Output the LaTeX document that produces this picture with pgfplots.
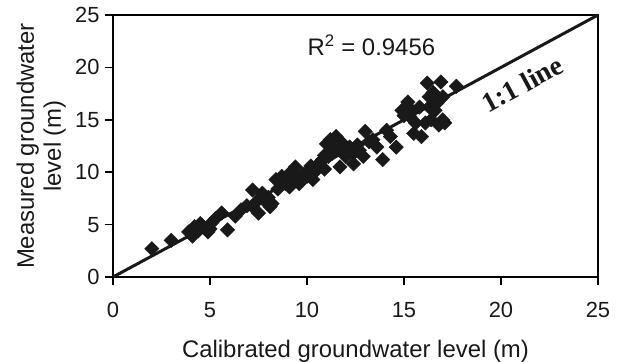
\documentclass[border=0pt]{standalone}
\usepackage{fontspec}
\setmainfont{Liberation Sans}
\newfontfamily\gothfont{Liberation Serif}
\usepackage{pgfplots}
\pgfplotsset{compat=1.18}
\pgfplotstableread{
x y
2.0 2.7
3.0 3.5
3.9 4.3
4.1 3.9
4.2 4.8
4.3 4.6
4.4 4.4
4.5 5.1
4.6 4.9
4.7 4.7
4.9 4.3
5.0 4.6
5.1 5.2
5.3 5.6
5.6 6.1
5.9 4.5
6.3 5.8
6.6 6.4
6.9 6.8
7.2 8.3
7.2 6.7
7.4 7.2
7.5 6.1
7.7 8.0
7.8 7.3
8.0 7.6
8.1 6.7
8.2 7.0
8.4 9.3
8.5 8.4
8.7 9.6
8.8 9.3
8.9 8.9
9.1 9.9
9.1 8.6
9.3 9.2
9.4 10.5
9.5 9.5
9.6 8.9
9.8 9.8
10.0 9.6
10.1 10.2
10.2 10.6
10.3 9.3
10.4 10.0
10.6 10.5
10.7 11.0
10.8 11.2
10.9 10.3
10.9 11.6
11.0 12.7
11.1 11.5
11.2 13.1
11.3 11.8
11.4 12.6
11.5 13.4
11.5 12.2
11.7 10.5
11.8 12.8
11.9 11.9
12.0 11.5
12.1 12.0
12.2 12.4
12.4 11.8
12.4 10.8
12.6 12.6
12.7 12.1
12.9 11.5
13.0 13.9
13.2 12.9
13.4 13.1
13.6 12.4
13.9 11.2
14.1 14.0
14.3 13.4
14.6 12.4
14.9 15.9
15.0 15.4
15.2 16.7
15.3 15.3
15.4 15.9
15.5 13.7
15.6 14.7
15.8 16.2
15.9 13.4
16.1 14.7
16.2 18.5
16.3 17.2
16.3 16.2
16.4 15.0
16.5 17.6
16.6 15.9
16.7 16.6
16.8 14.5
16.9 18.6
17.0 15.0
17.0 17.2
17.1 14.7
17.7 18.2
}\datatable
\begin{document}
\begin{tikzpicture}
\path[use as bounding box] (-113bp,-85bp) rectangle (504bp,277bp);
\begin{axis}[
  at={(0,0)}, anchor=south west,
  scale only axis, width=485bp, height=262bp,
  xmin=0, xmax=25, ymin=0, ymax=25,
  xtick={0,5,...,25}, ytick={0,5,...,25},
  tick pos=left, tick align=outside,
  major tick length=8bp,
  axis line style={line width=1.6bp, black},
  every tick/.style={line width=1.6bp, black},
  /pgf/number format/assume math mode=true,
  ticklabel style={font=\fontsize{22}{26}\selectfont, text=black!90},
  xticklabel style={yshift=-14bp},
  yticklabel style={xshift=-2bp},
  label style={font=\fontsize{24}{27}\selectfont, text=black!90},
  xlabel={Calibrated groundwater level (m)},
  xlabel style={at={(axis description cs:0.5,0)}, anchor=base, yshift=-80bp},
  ylabel={Measured groundwater\\level (m)},
  ylabel style={align=center, at={(axis description cs:-0.148,0.5)}, anchor=center},
  clip=false,
]
\addplot[black!90, line width=3bp] coordinates {(0,0) (25,25)};
\addplot[only marks, mark=square*, mark size=5.1bp,
  mark options={rotate=45, fill=black!90, draw=black!90, line width=0.4bp}]
  table[x=x, y=y] {\datatable};
\node[font=\fontsize{24}{27}\selectfont, text=black!90, anchor=base] at (axis cs:13.32,21.18) {R\textsuperscript{2} = 0.9456};
\node[rotate=28.4, font=\gothfont\bfseries\fontsize{28}{30}\selectfont, text=black!90] at (axis cs:21.1,18.4) {1:1 line};
\end{axis}
\end{tikzpicture}
\end{document}
